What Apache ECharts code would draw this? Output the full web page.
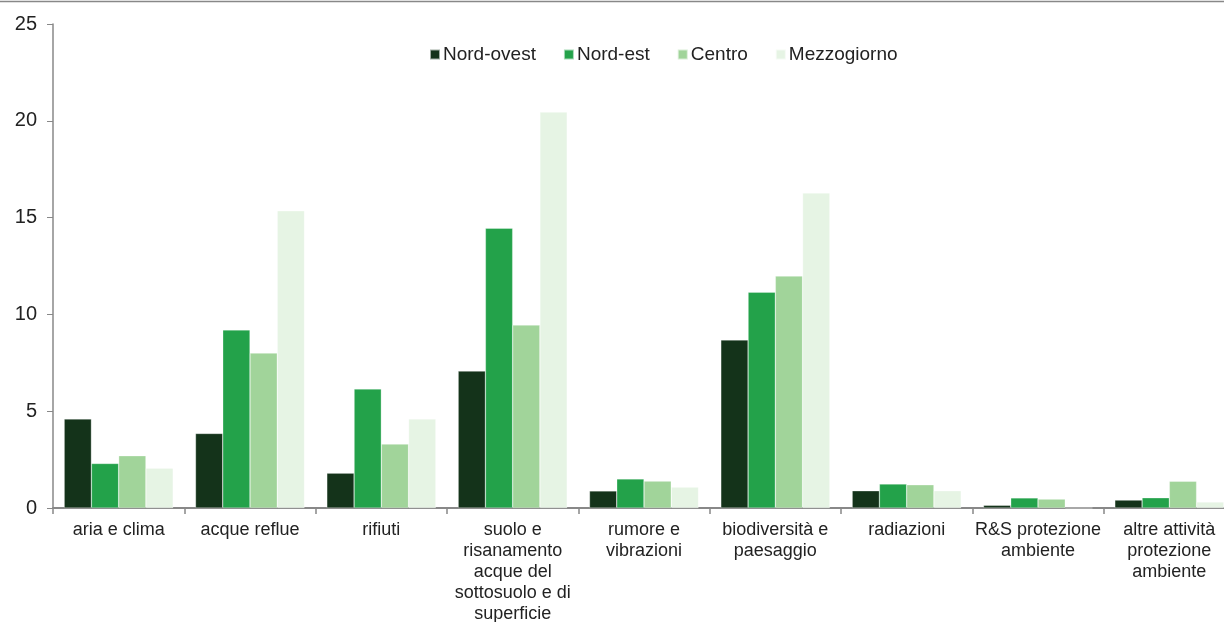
<!DOCTYPE html>
<html><head><meta charset="utf-8">
<script src="https://cdn.jsdelivr.net/npm/echarts@6/dist/echarts.min.js"></script>
<style>html,body{margin:0;padding:0;background:#fff}#c{width:1224px;height:622px}</style>
</head><body><div id="c"></div>
<script>
var categories = ["aria e clima","acque reflue","rifiuti","suolo e\nrisanamento\nacque del\nsottosuolo e di\nsuperficie","rumore e\nvibrazioni","biodiversità e\npaesaggio","radiazioni","R&S protezione\nambiente","altre attività\nprotezione\nambiente"];
var seriesNames = ["Nord-ovest","Nord-est","Centro","Mezzogiorno"];
var nordOvest = [4.6,3.85,1.8,7.07,0.88,8.68,0.89,0.14,0.41];
var nordEst = [2.3,9.2,6.15,14.45,1.5,11.15,1.24,0.52,0.53];
var centro = [2.7,8.0,3.3,9.45,1.39,11.98,1.2,0.46,1.38];
var mezzogiorno = [2.05,15.35,4.6,20.45,1.08,16.27,0.89,0,0.31];
var yTicks = [0,5,10,15,20,25];
var colors = ["#14331a","#23a24a","#a1d49a","#e6f4e4"];
var values = [nordOvest,nordEst,centro,mezzogiorno];

var chart = echarts.init(document.getElementById('c'));
chart.setOption({
  animation:false,
  textStyle:{fontFamily:"Liberation Sans, Arial, sans-serif"},
  graphic:[{type:'line',shape:{x1:0,y1:1.5,x2:1224,y2:1.5},style:{stroke:'#888',lineWidth:1.5}}],
  legend:{
    top:40,left:424,itemWidth:10,itemHeight:10,itemGap:27,
    icon:'rect',
    textStyle:{fontSize:19,color:'#222',padding:[0,0,0,-2]},
    data:seriesNames
  },
  grid:{left:53,width:1182,top:24,height:484,containLabel:false,outerBoundsMode:'none'},
  xAxis:{
    type:'category',data:categories,
    axisLine:{lineStyle:{color:'#888',width:2}},
    axisTick:{show:true,length:6,lineStyle:{color:'#888',width:1.5}},
    axisLabel:{fontSize:18,color:'#222',lineHeight:21,margin:12,interval:0}
  },
  yAxis:{
    type:'value',min:0,max:25,interval:5,
    axisLine:{show:true,lineStyle:{color:'#888',width:1.5}},
    axisTick:{show:true,length:6,lineStyle:{color:'#888'}},
    splitLine:{show:false},
    axisLabel:{fontSize:20,color:'#222',margin:16,
      formatter:function(v){return yTicks.indexOf(v)>=0?String(v):'';}}
  },
  series: seriesNames.map(function(n,i){
    return {name:n,type:'bar',data:values[i],barGap:'0%',barCategoryGap:'17%',
      itemStyle:{color:colors[i],borderColor:'rgba(255,255,255,0.6)',borderWidth:0.5}};
  })
});
</script></body></html>
